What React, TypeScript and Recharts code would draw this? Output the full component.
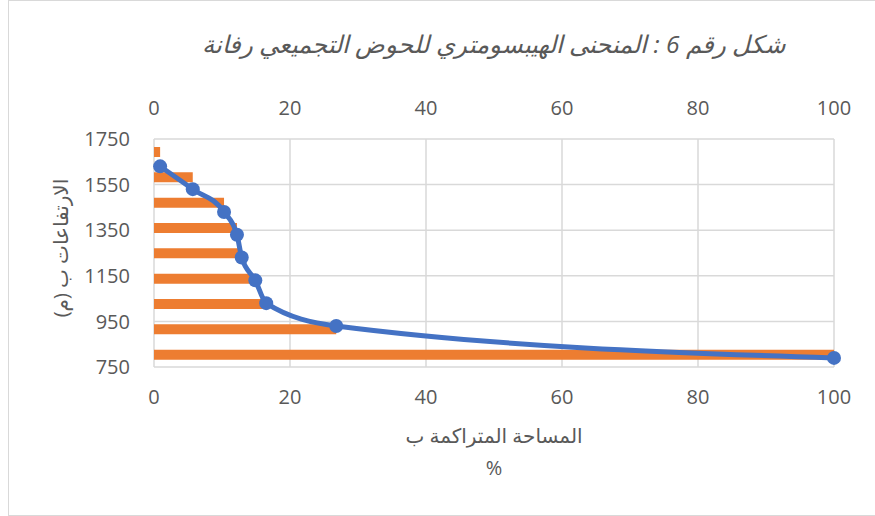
import React from 'react';
import { ComposedChart, Bar, Scatter, XAxis, YAxis, CartesianGrid, Label } from 'recharts';

// المساحة المتراكمة (%) لكل نطاق ارتفاع
const cumulativeArea = [0.9, 5.7, 10.3, 12.2, 12.9, 14.9, 16.5, 26.8, 100];
// الارتفاعات (م)
const elevations = [1630, 1530, 1430, 1330, 1230, 1130, 1030, 930, 790];
const bandNames = ['b1', 'b2', 'b3', 'b4', 'b5', 'b6', 'b7', 'b8', 'b9'];
const pctTicks = [0, 20, 40, 60, 80, 100];
const elevTicks = [750, 950, 1150, 1350, 1550, 1750];

const barData = bandNames.map((band, i) => ({ band, pct: cumulativeArea[i] }));
const curveData = elevations.map((elev, i) => ({ pct: cumulativeArea[i], elev }));

const FONT = '"Open Sans", "DejaVu Sans", sans-serif';
const TEXT = '#595959';

const Dot = (props: any) => <circle cx={props.cx} cy={props.cy} r={7} fill="#4472C4" />;

const PctTitle = (props: any) => {
  const { x, y, width } = props.viewBox;
  const cx = x + width / 2;
  return (
    <g fill={TEXT} fontSize={20} fontFamily={FONT}>
      <text x={cx} y={y + 68} textAnchor="middle" dominantBaseline="central">المساحة المتراكمة ب</text>
      <text x={cx} y={y + 100} textAnchor="middle" dominantBaseline="central">%</text>
    </g>
  );
};

const ElevTitle = (props: any) => {
  const { y, height } = props.viewBox;
  const cy = y + height / 2 - 5;
  return (
    <text
      x={60}
      y={cy}
      transform={`rotate(-90, 60, ${cy})`}
      textAnchor="middle"
      dominantBaseline="central"
      fill={TEXT}
      fontSize={20}
      fontFamily={FONT}
    >
      الارتفاعات ب (م)
    </text>
  );
};

export default function App() {
  return (
    <div style={{ position: 'absolute', left: 0, top: 0, width: 875, height: 516, background: '#fff' }}>
      <div
        style={{
          position: 'absolute', left: 8, top: 0, width: 875, height: 516,
          border: '1px solid #d9d9d9', boxSizing: 'border-box',
        }}
      />
      <div
        style={{
          position: 'absolute', left: 0, top: 27, width: 988, textAlign: 'center',
          fontFamily: FONT, fontSize: 24.5, fontStyle: 'italic', color: TEXT, direction: 'rtl',
        }}
      >
        شكل رقم 6 : المنحنى الهيبسومتري للحوض التجميعي رفانة
      </div>
      <ComposedChart
        width={875}
        height={516}
        layout="vertical"
        data={barData}
        margin={{ top: 90, right: 41, bottom: 100, left: 0 }}
        barCategoryGap={0}
        style={{ position: 'absolute', left: 0, top: 0 }}
      >
        <CartesianGrid stroke="#d9d9d9" strokeWidth={1.5} xAxisId="bottom" yAxisId="elev" />
        <XAxis
          xAxisId="top"
          orientation="top"
          type="number"
          domain={[0, 100]}
          ticks={pctTicks}
          height={49}
          axisLine={false}
          tickLine={false}
          tickSize={0}
          tickMargin={24}
          tick={{ fill: TEXT, fontSize: 20, fontFamily: FONT }}
        />
        <XAxis
          xAxisId="bottom"
          dataKey="pct"
          type="number"
          domain={[0, 100]}
          ticks={pctTicks}
          height={49}
          axisLine={false}
          tickLine={false}
          tickSize={0}
          tickMargin={23}
          tick={{ fill: TEXT, fontSize: 20, fontFamily: FONT }}
        >
          <Label content={PctTitle} />
        </XAxis>
        <YAxis yAxisId="band" dataKey="band" type="category" width={0} hide />
        <YAxis
          yAxisId="elev"
          dataKey="elev"
          type="number"
          domain={[750, 1750]}
          ticks={elevTicks}
          reversed
          allowDataOverflow
          width={154}
          axisLine={false}
          tickLine={false}
          tickSize={0}
          tickMargin={24}
          tick={{ fill: TEXT, fontSize: 20, fontFamily: FONT }}
        >
          <Label content={ElevTitle} />
        </YAxis>
        <Bar
          dataKey="pct"
          xAxisId="top"
          yAxisId="band"
          fill="#ED7D31"
          barSize={10}
          isAnimationActive={false}
        />
        <Scatter
          data={curveData}
          xAxisId="bottom"
          yAxisId="elev"
          fill="#4472C4"
          line={{ stroke: '#4472C4', strokeWidth: 5 }}
          lineJointType="monotoneX"
          shape={Dot}
          isAnimationActive={false}
        />
      </ComposedChart>
    </div>
  );
}
